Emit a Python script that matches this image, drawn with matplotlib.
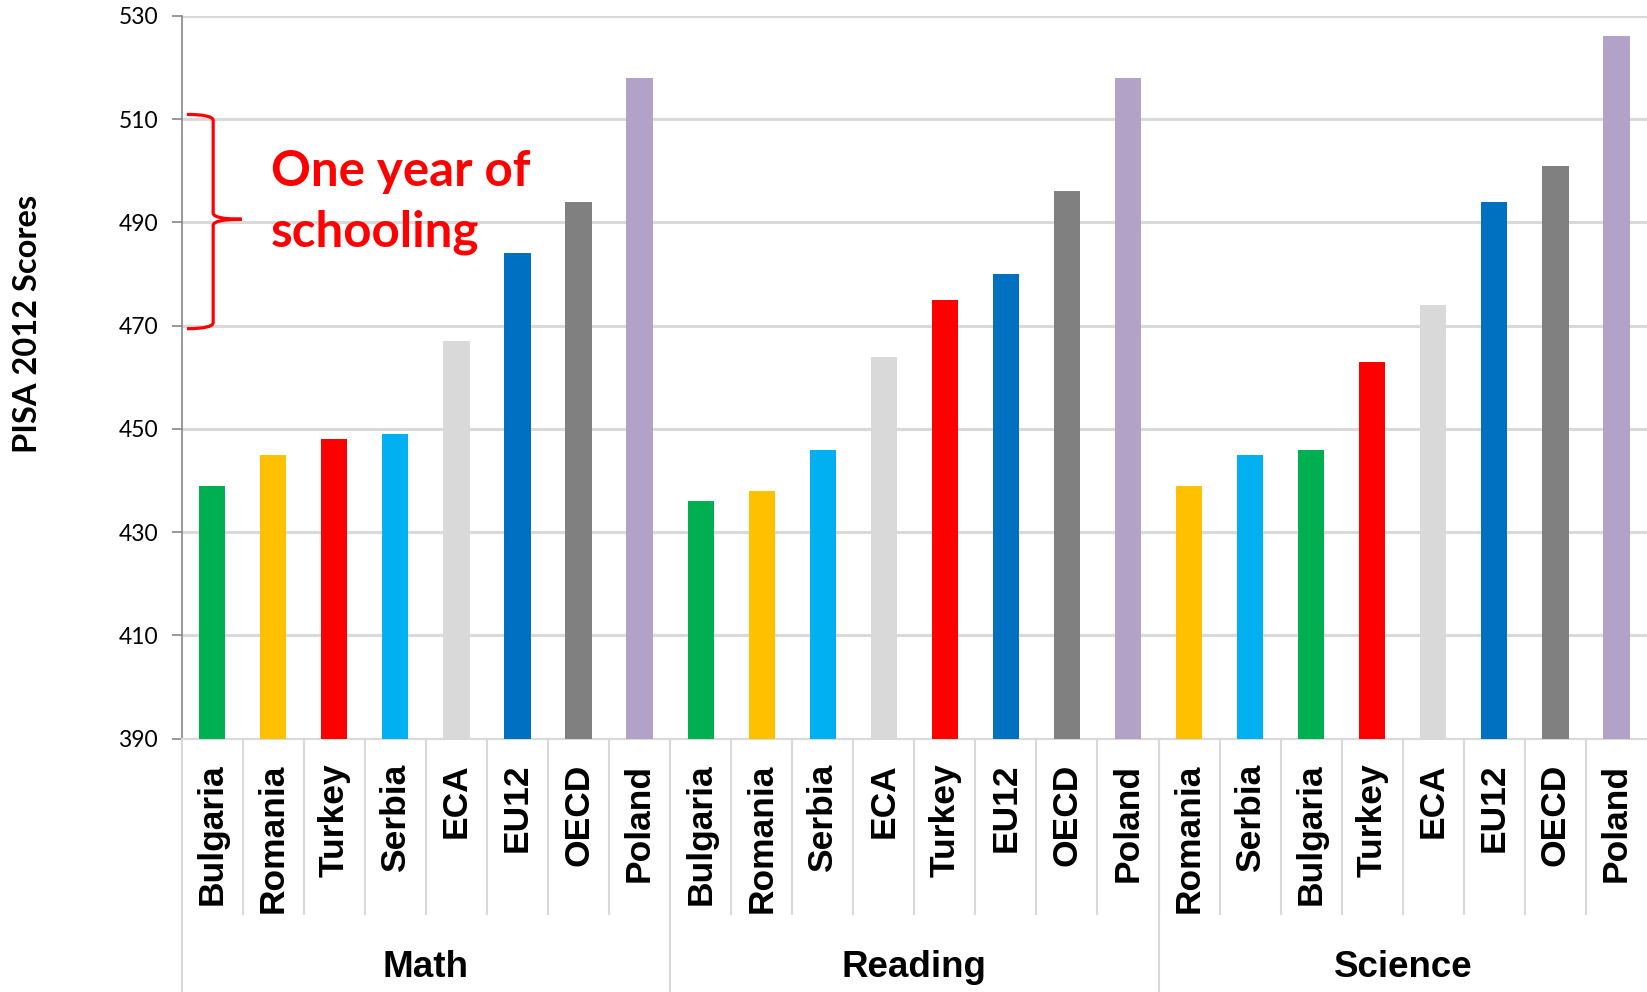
import matplotlib
matplotlib.use("Agg")
import matplotlib.pyplot as plt
from matplotlib.path import Path
from matplotlib.patches import PathPatch
from matplotlib.transforms import blended_transform_factory

# ---- data ----
groups = ["Math", "Reading", "Science"]
math_labels = ["Bulgaria", "Romania", "Turkey", "Serbia", "ECA", "EU12", "OECD", "Poland"]
math_values = [439, 445, 448, 449, 467, 484, 494, 518]
reading_labels = ["Bulgaria", "Romania", "Serbia", "ECA", "Turkey", "EU12", "OECD", "Poland"]
reading_values = [436, 438, 446, 464, 475, 480, 496, 518]
science_labels = ["Romania", "Serbia", "Bulgaria", "Turkey", "ECA", "EU12", "OECD", "Poland"]
science_values = [439, 445, 446, 463, 474, 494, 501, 526]
y_ticks = [390, 410, 430, 450, 470, 490, 510, 530]

colors_by_country = {
    "Bulgaria": "#00B050", "Romania": "#FFC000", "Turkey": "#FF0000",
    "Serbia": "#00B0F0", "ECA": "#D9D9D9", "EU12": "#0070C0",
    "OECD": "#808080", "Poland": "#B2A2C8",
}

labels = math_labels + reading_labels + science_labels
values = math_values + reading_values + science_values
group_sizes = [len(math_labels), len(reading_labels), len(science_labels)]
xs = list(range(len(labels)))
colors = [colors_by_country[l] for l in labels]

W, H = 1647, 992
fig = plt.figure(figsize=(W / 100, H / 100), dpi=100)
ax_left, ax_bottom, ax_top = 0.1103, 0.2553, 0.9841
ax = fig.add_axes([ax_left, ax_bottom, 1.0 - ax_left, ax_top - ax_bottom])

ax.set_ylim(390, 530)
ax.set_xlim(-0.5, len(labels) - 0.5)
ax.set_yticks(y_ticks)
ax.yaxis.grid(True, color="#D9D9D9", linewidth=2.2)
ax.set_axisbelow(True)
ax.bar(xs, [v - 390 for v in values], bottom=390, width=0.43, color=colors, zorder=3)

for s in ["top", "right"]:
    ax.spines[s].set_visible(False)
ax.spines["left"].set_color("#868686")
ax.spines["left"].set_linewidth(1.2)
ax.spines["bottom"].set_color("#D9D9D9")
ax.spines["bottom"].set_linewidth(1.5)
ax.set_xticks([])
ax.tick_params(axis="y", length=7, width=1.2, color="#868686", pad=10,
               labelsize=16.5, labelcolor="#000000")
for t in ax.get_yticklabels():
    t.set_fontfamily("Lato")

ax.set_ylabel("PISA 2012 Scores", fontsize=23.5, fontweight="bold", family="Lato",
              labelpad=0)
ax.yaxis.set_label_coords(-0.0955, 0.574)

# category labels and separators (two-level axis)
tr = blended_transform_factory(ax.transData, fig.transFigure)
for x, lab in zip(xs, labels):
    ax.text(x, 0.2300, lab, transform=tr, rotation=90, ha="center", va="top",
            fontsize=25.5, fontweight="bold", family="Liberation Sans")
for i in range(len(labels)):
    ax.plot([i - 0.5, i - 0.5], [ax_bottom, 0.0784], transform=tr, color="#D9D9D9",
            linewidth=1.5, clip_on=False)
start = 0
for g, n in zip(groups, group_sizes):
    ax.plot([start - 0.5, start - 0.5], [ax_bottom, 0.0], transform=tr, color="#D9D9D9",
            linewidth=1.5, clip_on=False)
    ax.text(start + (n - 1) / 2, 0.0245, g, transform=tr, ha="center", va="center",
            fontsize=26.5, fontweight="bold", family="Liberation Sans")
    start += n

# brace annotation
btr = blended_transform_factory(ax.transAxes, ax.transData)
x0, x1, x2 = 0.0036, 0.0215, 0.0409
ytop, ymid, ybot, d = 510.9, 490.6, 469.4, 1.2
verts = [(x0, ytop), (x1, ytop), (x1, ytop - d),
         (x1, ymid + d),
         (x1, ymid), (x2, ymid),
         (x1, ymid), (x1, ymid - d),
         (x1, ybot + d),
         (x1, ybot), (x0, ybot)]
codes = [Path.MOVETO, Path.CURVE3, Path.CURVE3,
         Path.LINETO,
         Path.CURVE3, Path.CURVE3,
         Path.CURVE3, Path.CURVE3,
         Path.LINETO,
         Path.CURVE3, Path.CURVE3]
ax.add_patch(PathPatch(Path(verts, codes), transform=btr, fill=False,
                       edgecolor="#FF0000", linewidth=2.3, clip_on=False, zorder=5))
ax.text(0.0609, 0.816, "One year of\nschooling", transform=ax.transAxes, color="#FF0000",
        fontsize=35.5, fontweight="bold", family="Lato", ha="left", va="top",
        linespacing=1.42, zorder=5)

fig.savefig("out.png", dpi=100)
